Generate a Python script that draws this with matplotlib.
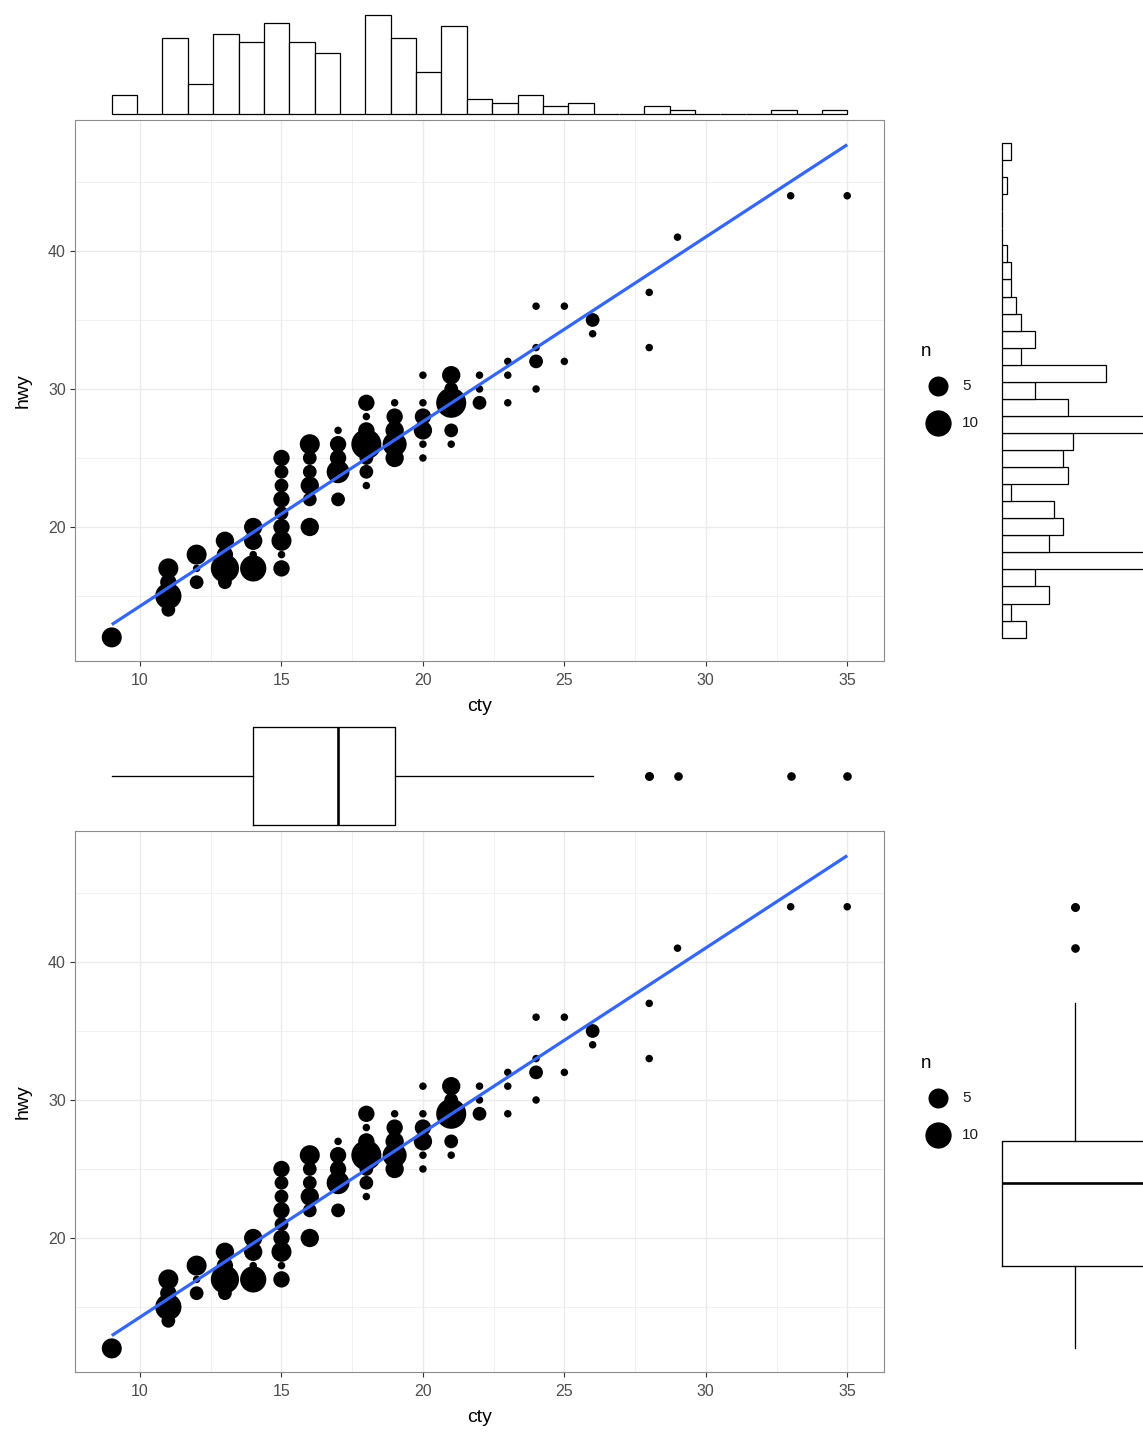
import numpy as np
import matplotlib
matplotlib.use("Agg")
import matplotlib.pyplot as plt

plt.rcParams['font.family'] = ['Liberation Sans', 'DejaVu Sans']

# ---- data: counts of (cty, hwy) combinations ----
cty = [9, 11, 11, 11, 11, 12, 12, 12, 13, 13, 13, 13, 14, 14, 14, 14,
       15, 15, 15, 15, 15, 15, 15, 15, 15,
       16, 16, 16, 16, 16, 16,
       17, 17, 17, 17, 17,
       18, 18, 18, 18, 18, 18, 18,
       19, 19, 19, 19, 19,
       20, 20, 20, 20, 20, 20,
       21, 21, 21, 21, 21,
       22, 22, 22, 23, 23, 23, 24, 24, 24, 24, 25, 25, 26, 26, 28, 28, 29, 33, 35]
hwy = [12, 15, 14, 17, 16, 17, 16, 18, 17, 18, 19, 16, 20, 19, 17, 18,
       25, 24, 23, 22, 21, 19, 20, 17, 18,
       26, 25, 23, 22, 24, 20,
       25, 26, 24, 22, 27,
       29, 26, 27, 24, 25, 28, 23,
       27, 28, 26, 29, 25,
       31, 28, 27, 26, 25, 29,
       29, 30, 31, 26, 27,
       30, 31, 29, 29, 31, 32, 32, 36, 30, 33, 32, 36, 34, 35, 33, 37, 41, 44, 44]
n = [5, 10, 2, 5, 3, 1, 2, 5, 12, 3, 4, 2, 4, 4, 10, 1,
     3, 2, 2, 3, 2, 5, 3, 3, 1,
     5, 2, 4, 2, 2, 4,
     3, 3, 7, 2, 1,
     3, 14, 3, 2, 2, 1, 1,
     4, 3, 8, 1, 4,
     1, 3, 4, 1, 1, 1,
     14, 2, 4, 1, 2,
     1, 1, 2, 1, 1, 1, 2, 1, 1, 1, 1, 1, 1, 2, 1, 1, 1, 1, 1]
legend_breaks = [5, 10]
x_ticks = [10, 15, 20, 25, 30, 35]
y_ticks = [20, 30, 40]

cty = np.array(cty); hwy = np.array(hwy); n = np.array(n)
cty_all = np.repeat(cty, n)
hwy_all = np.repeat(hwy, n)

W, H = 1143, 1432
DPI = 100
fig = plt.figure(figsize=(W / DPI, H / DPI), dpi=DPI)


def rect(x0, y0, x1, y1):
    return [x0 / W, 1 - y1 / H, (x1 - x0) / W, (y1 - y0) / H]


nmin, nmax = n.min(), n.max()


def msize(v):
    size = 1 + 5 * np.sqrt((np.asarray(v) - nmin) / (nmax - nmin))
    d_px = 3 + 4.51 * size
    return (d_px * 72 / DPI) ** 2


XLIM = (7.7, 36.3)
YLIM = (10.29, 49.49)
slope, intercept = np.polyfit(cty_all, hwy_all, 1)

TICK_COL = '#4D4D4D'
GRID_COL = '#EBEBEB'
BORDER_COL = '#8C8C8C'


def main_panel(y_off):
    ax = fig.add_axes(rect(75, 120 + y_off, 884, 661 + y_off))
    ax.set_xlim(*XLIM)
    ax.set_ylim(*YLIM)
    for xm in np.arange(7.5, 37.6, 5):
        ax.axvline(xm, color=GRID_COL, lw=0.5, zorder=0)
    for ym in [15, 25, 35, 45]:
        ax.axhline(ym, color=GRID_COL, lw=0.5, zorder=0)
    for xm in x_ticks:
        ax.axvline(xm, color=GRID_COL, lw=1.0, zorder=0)
    for ym in y_ticks:
        ax.axhline(ym, color=GRID_COL, lw=1.0, zorder=0)
    ax.scatter(cty, hwy, s=msize(n), color='black', linewidths=0, zorder=2)
    xs = np.array([cty_all.min(), cty_all.max()])
    ax.plot(xs, intercept + slope * xs, color='#3366FF', lw=2.3, zorder=3,
            solid_capstyle='butt')
    ax.set_xticks(x_ticks)
    ax.set_yticks(y_ticks)
    ax.tick_params(colors='#333333', labelcolor=TICK_COL, labelsize=11.5,
                   length=3.5, width=0.8)
    ax.tick_params(axis='x', pad=5)
    ax.tick_params(axis='y', pad=3)
    for sp in ax.spines.values():
        sp.set_color(BORDER_COL)
        sp.set_linewidth(0.8)
    ax.set_xlabel('cty', fontsize=14, labelpad=7)
    ax.set_ylabel('hwy', fontsize=14, labelpad=12)
    return ax


def legend(y_off):
    ax = fig.add_axes(rect(905, 330 + y_off, 1000, 445 + y_off))
    ax.set_xlim(905, 1000)
    ax.set_ylim(445 + y_off, 330 + y_off)
    ax.axis('off')
    ax.text(921, 351 + y_off, 'n', fontsize=13.5, va='center', ha='left')
    for i, b in enumerate(legend_breaks):
        yy = 386 + 37 * i + y_off
        ax.scatter([938], [yy], s=msize(b), color='black', linewidths=0)
        ax.text(962, yy, str(b), fontsize=11, va='center', ha='left',
                color='#1a1a1a')


# ---------------- top composite ----------------
ax1 = main_panel(0)
legend(0)

# top histogram (cty)
ax_ht = fig.add_axes(rect(75, 10, 884, 118))
edges_x = np.linspace(cty_all.min(), cty_all.max(), 30)
ax_ht.hist(cty_all, bins=edges_x, facecolor='white', edgecolor='black', lw=0.9)
ax_ht.set_xlim(*XLIM)
ax_ht.set_ylim(-1.05, 27.31)
ax_ht.axis('off')

# right histogram (hwy)
ax_hr = fig.add_axes(rect(995, 120, 1200, 661))
edges_y = np.linspace(hwy_all.min(), hwy_all.max(), 30)
ax_hr.hist(hwy_all, bins=edges_y, orientation='horizontal', facecolor='white',
           edgecolor='black', lw=0.9)
ax_hr.set_ylim(10.49, 45.49)
ax_hr.set_xlim(-7 / 4.73, (1200 - 1002) / 4.73)
ax_hr.axis('off')

# ---------------- bottom composite ----------------
OFF = 711
ax2 = main_panel(OFF)
legend(712)

boxprops = dict(color='black', linewidth=0.95)
flierprops = dict(marker='o', markerfacecolor='black', markeredgecolor='black',
                  markersize=5.2)
medianprops = dict(color='black', linewidth=1.9)

ax_bt = fig.add_axes(rect(75, 722, 884, 830))
ax_bt.boxplot(cty_all, vert=False, positions=[0], widths=1.833, whis=1.5,
              boxprops=boxprops, whiskerprops=boxprops, capprops=dict(linewidth=0),
              medianprops=medianprops, flierprops=flierprops, manage_ticks=False)
ax_bt.set_xlim(*XLIM)
ax_bt.set_ylim(-1, 1)
ax_bt.axis('off')

ax_br = fig.add_axes(rect(990, 831, 1160, 1372))
ax_br.boxplot(hwy_all, vert=True, positions=[0], widths=1.718, whis=1.5,
              boxprops=boxprops, whiskerprops=boxprops, capprops=dict(linewidth=0),
              medianprops=medianprops, flierprops=flierprops, manage_ticks=False)
ax_br.set_xlim(-1, 1)
ax_br.set_ylim(*YLIM)
ax_br.axis('off')

fig.savefig('out.png', dpi=DPI, facecolor='white')
